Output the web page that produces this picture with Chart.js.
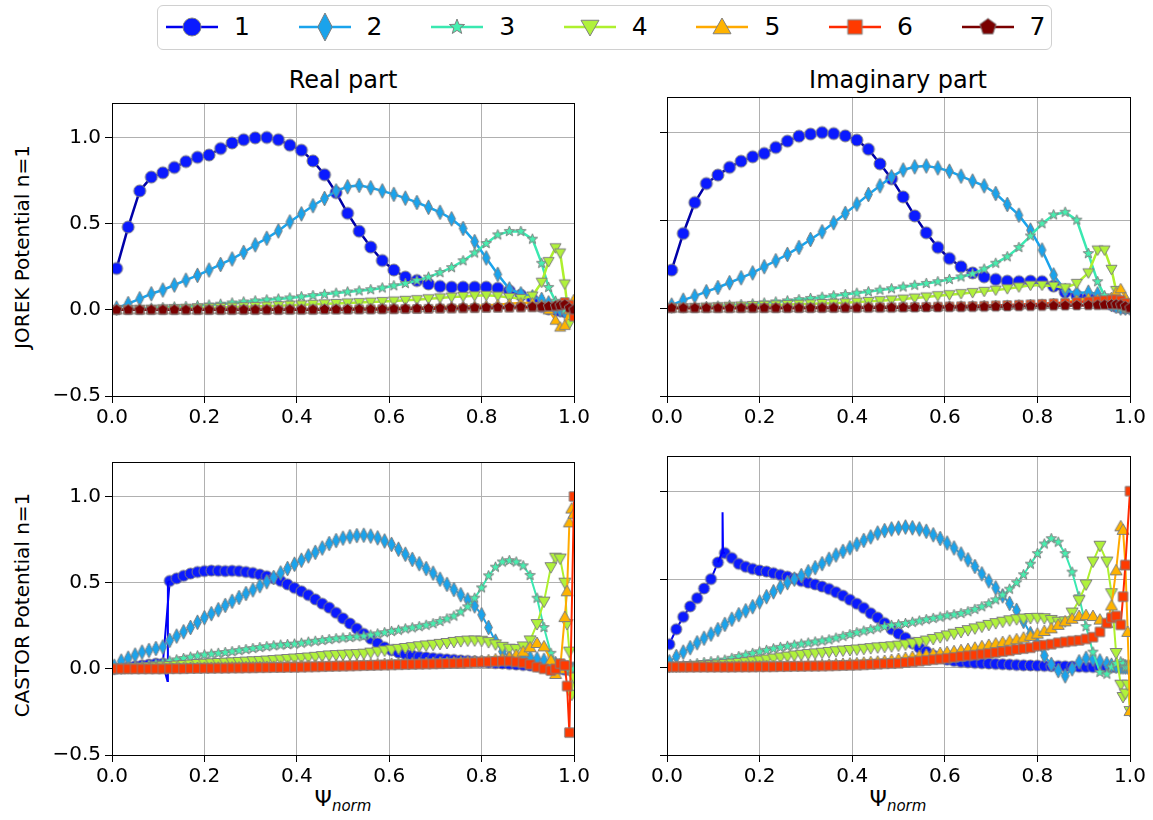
<!DOCTYPE html>
<html>
<head>
<meta charset="utf-8">
<title>JOREK / CASTOR potential n=1</title>
<script src="https://cdn.jsdelivr.net/npm/chart.js@4.4.1/dist/chart.umd.min.js"></script>
<style>
  html, body { margin: 0; padding: 0; background: #fff; }
  body { position: relative; width: 1153px; height: 820px; overflow: hidden;
         font-family: "DejaVu Sans", sans-serif; color: #000; }
  canvas.panel { position: absolute; }
  .title { position: absolute; font-size: 24px; transform: translate(-50%, -50%); white-space: nowrap; }
  .ylab  { position: absolute; font-size: 20px; transform: translate(-50%, -50%) rotate(-90deg); white-space: nowrap; }
  .xlab  { position: absolute; font-size: 22px; transform: translate(-50%, -50%); white-space: nowrap; }
  .xlab sub { font-size: 15px; font-style: italic; vertical-align: -5px; }
  #legend { position: absolute; left: 157px; top: 5px; width: 893px; height: 43px;
            border: 1px solid #d0d0d0; border-radius: 6px; }
  .lg-item { position: absolute; top: 0; height: 43px; width: 120px; }
  .lg-item canvas { position: absolute; left: 0; top: 5px; }
  .lg-item span { position: absolute; left: 70px; top: 5px; font-size: 25px; line-height: 32px; }
</style>
</head>
<body>
<div id="legend"></div>
<div class="title" style="left:343px;top:80px">Real part</div>
<div class="title" style="left:898px;top:80px">Imaginary part</div>
<div class="ylab" style="left:22px;top:247px">JOREK Potential n=1</div>
<div class="ylab" style="left:22px;top:605px">CASTOR Potential n=1</div>
<div class="xlab" style="left:343px;top:800px">Ψ<sub>norm</sub></div>
<div class="xlab" style="left:898px;top:800px">Ψ<sub>norm</sub></div>

<canvas id="jorekRe"  class="panel" width="582" height="343" style="left:12px;top:87px"></canvas>
<canvas id="jorekIm"  class="panel" width="583" height="343" style="left:567px;top:87px"></canvas>
<canvas id="castorRe" class="panel" width="582" height="343" style="left:12px;top:446px"></canvas>
<canvas id="castorIm" class="panel" width="583" height="343" style="left:567px;top:446px"></canvas>

<script>
// ============================================================
// JOREK vs CASTOR — potential harmonics, n=1
// ============================================================

// ── Axes ─────────────────────────────────────────────────────
const xTicks = [0, 0.2, 0.4, 0.6, 0.8, 1.0];
const yTicks = [-0.5, 0, 0.5, 1.0];
const harmonics = ["1", "2", "3", "4", "5", "6", "7"];

// ── JOREK (top row) ──────────────────────────────────────────
const psiJorek = [0.01,0.035,0.06,0.085,0.11,0.135,0.16,0.185,0.21,0.235,
  0.26,0.285,0.31,0.335,0.36,0.385,0.41,0.435,0.46,0.485,
  0.51,0.535,0.56,0.585,0.61,0.635,0.66,0.685,0.71,0.735,
  0.76,0.785,0.81,0.835,0.86,0.885,0.91,0.93,0.945,0.96,
  0.97,0.98,0.99,1.0];

const jorekRe1 = [0.24,0.48,0.69,0.77,0.795,0.826,0.86,0.885,0.898,0.936,
  0.968,0.987,0.998,1.0,0.987,0.955,0.926,0.864,0.784,0.68,
  0.56,0.456,0.364,0.286,0.231,0.19,0.17,0.15,0.136,0.131,
  0.131,0.131,0.131,0.125,0.11,0.085,0.06,0.02,0.005,0.0,
  -0.005,-0.01,0.0,0.0];
const jorekRe2 = [0.01,0.036,0.064,0.093,0.115,0.144,0.172,0.2,0.231,0.263,
  0.295,0.333,0.377,0.415,0.458,0.51,0.557,0.604,0.646,0.69,
  0.714,0.722,0.708,0.69,0.67,0.648,0.623,0.595,0.566,0.528,
  0.472,0.396,0.301,0.206,0.121,0.093,0.075,0.06,0.04,0.01,
  0.0,-0.01,0.0,0.0];
const jorekRe3 = [0.0,0.003,0.006,0.01,0.013,0.017,0.02,0.024,0.028,0.033,
  0.04,0.046,0.052,0.058,0.063,0.069,0.076,0.083,0.09,0.097,
  0.104,0.11,0.117,0.127,0.14,0.153,0.17,0.19,0.216,0.245,
  0.285,0.33,0.385,0.435,0.455,0.455,0.41,0.27,0.13,0.05,
  0.02,0.0,0.0,0.0];
const jorekRe4 = [0.0,0.002,0.003,0.004,0.006,0.007,0.009,0.01,0.012,0.014,
  0.016,0.018,0.02,0.022,0.024,0.027,0.029,0.032,0.035,0.037,
  0.04,0.042,0.045,0.048,0.051,0.055,0.059,0.064,0.069,0.074,
  0.078,0.082,0.084,0.08,0.072,0.066,0.08,0.16,0.28,0.36,
  0.33,0.15,-0.08,-0.02];
const jorekRe5 = [0,0,0,0,0,0,0,0,0.001,0.001,
  0.001,0.002,0.002,0.002,0.003,0.003,0.004,0.004,0.005,0.005,
  0.006,0.007,0.008,0.009,0.01,0.011,0.012,0.014,0.016,0.018,
  0.02,0.022,0.025,0.03,0.035,0.04,0.04,0.03,0.0,-0.06,
  -0.1,-0.09,0.0,0.06];
const jorekRe6 = [0,0,0,0,0,0,0,0,0,0,
  0,0,0,0,0,0.001,0.001,0.001,0.002,0.002,
  0.002,0.003,0.003,0.004,0.004,0.005,0.005,0.006,0.007,0.008,
  0.009,0.01,0.011,0.012,0.013,0.014,0.015,0.016,0.018,0.02,
  0.03,0.045,0.03,-0.04];
const jorekRe7 = [0,0,0,0,0,0,0,0,0,0,
  0,0,0,0,0,0.001,0.001,0.001,0.002,0.002,
  0.002,0.003,0.003,0.004,0.005,0.006,0.007,0.008,0.009,0.01,
  0.011,0.012,0.013,0.014,0.015,0.016,0.017,0.018,0.02,0.022,
  0.025,0.03,0.01,0.0];

const jorekIm1 = [0.216,0.424,0.6,0.708,0.756,0.8,0.835,0.86,0.879,0.913,
  0.949,0.977,0.989,0.998,0.992,0.979,0.955,0.903,0.82,0.735,
  0.632,0.524,0.428,0.345,0.282,0.235,0.2,0.178,0.163,0.153,
  0.15,0.153,0.15,0.125,0.09,0.07,0.06,0.05,0.04,0.02,
  0.01,0.005,0.0,0.0];
const jorekIm2 = [0.017,0.045,0.068,0.093,0.117,0.144,0.172,0.2,0.235,0.269,
  0.305,0.345,0.39,0.434,0.485,0.538,0.591,0.646,0.695,0.746,
  0.785,0.803,0.808,0.797,0.778,0.75,0.722,0.695,0.651,0.589,
  0.528,0.443,0.33,0.188,0.1,0.085,0.09,0.08,0.05,0.02,
  0.01,0.0,0.0,0.0];
const jorekIm3 = [0.0,0.003,0.006,0.009,0.012,0.016,0.02,0.024,0.029,0.035,
  0.041,0.048,0.055,0.062,0.07,0.077,0.085,0.093,0.102,0.11,
  0.12,0.13,0.14,0.15,0.163,0.177,0.195,0.222,0.255,0.292,
  0.345,0.41,0.48,0.53,0.545,0.5,0.31,0.15,0.07,0.03,
  0.01,0.0,0.0,0.0];
const jorekIm4 = [0.0,0.002,0.004,0.006,0.008,0.01,0.012,0.014,0.016,0.018,
  0.02,0.022,0.024,0.026,0.028,0.03,0.034,0.038,0.042,0.046,
  0.051,0.057,0.063,0.07,0.076,0.082,0.088,0.095,0.102,0.11,
  0.12,0.13,0.13,0.125,0.115,0.14,0.2,0.33,0.33,0.22,
  0.1,0.03,0.0,0.0];
const jorekIm5 = [0,0,0,0,0,0.001,0.001,0.001,0.002,0.002,
  0.002,0.003,0.003,0.004,0.004,0.005,0.005,0.006,0.006,0.007,
  0.008,0.008,0.009,0.01,0.011,0.012,0.013,0.014,0.015,0.016,
  0.018,0.02,0.022,0.026,0.032,0.045,0.055,0.05,0.04,0.06,
  0.09,0.11,0.06,0.0];
const jorekIm6 = [0,0,0,0,0,0,0,0,0,0,
  0.001,0.001,0.001,0.002,0.002,0.002,0.003,0.003,0.004,0.004,
  0.005,0.006,0.007,0.008,0.009,0.01,0.011,0.013,0.015,0.017,
  0.019,0.021,0.024,0.027,0.03,0.034,0.038,0.042,0.045,0.048,
  0.05,0.045,0.03,0.0];
const jorekIm7 = [0,0,0,0,0,0,0,0,0,0,
  0,0,0,0,0.001,0.001,0.001,0.002,0.002,0.002,
  0.003,0.003,0.004,0.004,0.005,0.005,0.006,0.007,0.008,0.009,
  0.01,0.011,0.012,0.013,0.014,0.015,0.016,0.017,0.018,0.02,
  0.02,0.018,0.01,0.0];

// ── CASTOR (bottom row) ──────────────────────────────────────
const psiCastor = [0.005,0.02,0.035,0.05,0.065,0.08,0.095,0.11,0.125,0.14,
  0.155,0.17,0.185,0.2,0.215,0.23,0.245,0.26,0.275,0.29,
  0.305,0.32,0.335,0.35,0.365,0.38,0.395,0.41,0.425,0.44,
  0.455,0.47,0.485,0.5,0.515,0.53,0.545,0.56,0.575,0.59,
  0.605,0.62,0.635,0.65,0.665,0.68,0.695,0.71,0.725,0.74,
  0.755,0.77,0.785,0.8,0.815,0.83,0.845,0.86,0.875,0.89,
  0.905,0.92,0.935,0.95,0.96,0.97,0.98,0.985,0.99,0.995,
  1.0];

const castorRe1 = [0.0,0.005,0.01,0.015,0.02,0.025,0.03,0.03,0.51,0.525,
  0.54,0.553,0.562,0.567,0.57,0.569,0.567,0.569,0.567,0.562,
  0.556,0.547,0.537,0.525,0.51,0.49,0.47,0.45,0.428,0.403,
  0.378,0.355,0.325,0.293,0.263,0.233,0.203,0.175,0.148,0.125,
  0.108,0.095,0.085,0.077,0.07,0.066,0.062,0.058,0.055,0.052,
  0.049,0.046,0.043,0.04,0.037,0.034,0.031,0.028,0.025,0.022,
  0.019,0.015,0.012,0.008,0.005,0.0,-0.005,0.0,0.0,0.0,
  0.0];
const castorRe2 = [0.015,0.045,0.062,0.08,0.097,0.107,0.118,0.127,0.165,0.19,
  0.215,0.24,0.27,0.297,0.32,0.343,0.368,0.392,0.414,0.437,
  0.458,0.482,0.505,0.53,0.556,0.582,0.607,0.63,0.655,0.676,
  0.701,0.727,0.744,0.758,0.767,0.773,0.775,0.77,0.76,0.742,
  0.722,0.694,0.665,0.635,0.61,0.582,0.555,0.52,0.49,0.46,
  0.43,0.4,0.365,0.314,0.24,0.16,0.1,0.07,0.06,0.06,
  0.065,0.058,0.05,0.04,0.03,0.02,0.01,0.005,0.0,0.0,
  0.0];
const castorRe3 = [0.0,0.005,0.01,0.015,0.02,0.025,0.03,0.035,0.045,0.052,
  0.06,0.068,0.075,0.081,0.086,0.09,0.095,0.1,0.106,0.112,
  0.118,0.124,0.129,0.134,0.138,0.141,0.144,0.149,0.155,0.16,
  0.165,0.17,0.175,0.179,0.182,0.186,0.19,0.196,0.203,0.21,
  0.217,0.224,0.232,0.238,0.245,0.253,0.262,0.275,0.29,0.306,
  0.33,0.36,0.41,0.47,0.54,0.59,0.62,0.628,0.62,0.598,
  0.542,0.41,0.24,0.09,0.03,0.01,0.0,0.0,0.0,0.0,
  0.0];
const castorRe4 = [0.0,0.002,0.004,0.006,0.008,0.01,0.012,0.014,0.016,0.019,
  0.022,0.025,0.028,0.03,0.032,0.034,0.036,0.038,0.04,0.042,
  0.044,0.046,0.048,0.051,0.054,0.057,0.06,0.063,0.066,0.07,
  0.074,0.078,0.08,0.082,0.084,0.086,0.088,0.094,0.1,0.106,
  0.111,0.116,0.121,0.126,0.131,0.136,0.14,0.145,0.15,0.156,
  0.161,0.164,0.165,0.163,0.155,0.142,0.128,0.117,0.115,0.13,
  0.165,0.26,0.39,0.59,0.645,0.64,0.5,0.26,0.1,-0.15,
  -0.05];
const castorRe5 = [0,0,0,0.001,0.001,0.002,0.002,0.003,0.003,0.004,
  0.004,0.005,0.005,0.006,0.006,0.007,0.007,0.008,0.008,0.009,
  0.009,0.01,0.011,0.012,0.013,0.014,0.015,0.016,0.017,0.018,
  0.019,0.02,0.021,0.022,0.023,0.024,0.025,0.026,0.027,0.028,
  0.029,0.03,0.031,0.032,0.033,0.034,0.035,0.036,0.037,0.038,
  0.04,0.042,0.044,0.046,0.05,0.055,0.06,0.068,0.08,0.1,
  0.125,0.15,0.13,0.05,-0.03,0.0,0.3,0.45,0.85,0.93,
  0.9];
const castorRe6 = [0,0,0,0,0,0,0,0,0.001,0.001,
  0.001,0.002,0.002,0.003,0.003,0.004,0.004,0.005,0.005,0.006,
  0.006,0.007,0.007,0.008,0.008,0.009,0.009,0.01,0.011,0.012,
  0.013,0.014,0.015,0.016,0.017,0.018,0.019,0.02,0.021,0.022,
  0.023,0.024,0.025,0.026,0.027,0.028,0.029,0.03,0.031,0.032,
  0.033,0.035,0.037,0.039,0.041,0.043,0.045,0.045,0.04,0.035,
  0.025,0.01,0.0,-0.01,0.0,0.03,0.02,-0.1,-0.37,null,
  1.0];

const castorIm1 = [0.13,0.215,0.285,0.345,0.392,0.447,0.5,0.595,0.648,0.62,
  0.587,0.57,0.558,0.549,0.543,0.534,0.524,0.514,0.503,0.49,
  0.48,0.47,0.458,0.444,0.426,0.406,0.383,0.36,0.336,0.306,
  0.281,0.25,0.215,0.19,0.166,0.136,0.11,0.088,0.066,0.052,
  0.042,0.035,0.03,0.027,0.024,0.022,0.02,0.018,0.016,0.014,
  0.012,0.01,0.009,0.008,0.007,0.006,0.005,0.004,0.003,0.002,
  0.001,0.0,0.0,0.0,0.0,0.0,0.0,0.0,0.0,0.0,
  0.0];
const castorIm2 = [0.03,0.06,0.085,0.11,0.138,0.164,0.187,0.213,0.243,0.272,
  0.298,0.32,0.343,0.37,0.4,0.428,0.455,0.48,0.5,0.52,
  0.542,0.565,0.588,0.613,0.637,0.658,0.678,0.698,0.72,0.74,
  0.762,0.776,0.785,0.79,0.796,0.792,0.785,0.772,0.752,0.731,
  0.705,0.677,0.643,0.61,0.572,0.53,0.49,0.45,0.405,0.362,
  0.322,0.26,0.19,0.13,0.065,0.015,-0.02,-0.05,-0.01,0.03,
  0.05,0.045,0.035,0.02,0.01,0.005,0.0,0.0,0.0,0.0,
  0.0];
const castorIm3 = [0.0,0.005,0.01,0.015,0.02,0.026,0.031,0.036,0.04,0.05,
  0.06,0.068,0.078,0.087,0.095,0.104,0.112,0.118,0.125,0.131,
  0.137,0.143,0.149,0.155,0.165,0.175,0.185,0.196,0.205,0.213,
  0.222,0.23,0.237,0.241,0.248,0.255,0.262,0.27,0.277,0.284,
  0.292,0.298,0.305,0.315,0.328,0.343,0.36,0.382,0.41,0.443,
  0.48,0.525,0.585,0.645,0.7,0.73,0.71,0.645,0.54,0.4,
  0.23,0.085,-0.03,-0.04,0.0,0.02,0.03,0.02,0.0,0.0,
  0.0];
const castorIm4 = [0.0,0.002,0.004,0.006,0.008,0.01,0.012,0.014,0.017,0.02,
  0.024,0.028,0.033,0.038,0.043,0.049,0.055,0.06,0.066,0.07,
  0.074,0.078,0.082,0.086,0.09,0.094,0.097,0.1,0.104,0.108,
  0.112,0.115,0.118,0.122,0.128,0.135,0.143,0.151,0.16,0.17,
  0.18,0.19,0.2,0.21,0.22,0.23,0.24,0.25,0.258,0.266,
  0.272,0.276,0.279,0.28,0.278,0.268,0.258,0.26,0.31,0.38,
  0.47,0.6,0.69,0.6,0.42,0.08,-0.1,-0.17,-0.15,-0.1,
  -0.25];
const castorIm5 = [0,0,0,0,0.001,0.001,0.001,0.002,0.002,0.002,
  0.003,0.003,0.004,0.004,0.005,0.005,0.006,0.007,0.008,0.009,
  0.01,0.011,0.012,0.014,0.016,0.018,0.02,0.022,0.025,0.028,
  0.031,0.035,0.04,0.046,0.052,0.058,0.064,0.07,0.075,0.08,
  0.085,0.09,0.096,0.102,0.11,0.118,0.126,0.134,0.142,0.15,
  0.158,0.167,0.178,0.19,0.205,0.22,0.24,0.26,0.275,0.29,
  0.295,0.29,0.27,0.25,0.35,0.55,0.8,0.78,0.58,0.2,
  -0.25];
const castorIm6 = [0,0,0,0,0,0,0,0,0,0,
  0.001,0.001,0.001,0.002,0.002,0.002,0.003,0.003,0.004,0.004,
  0.005,0.005,0.006,0.007,0.008,0.009,0.01,0.011,0.013,0.015,
  0.017,0.019,0.02,0.022,0.026,0.03,0.034,0.038,0.042,0.046,
  0.05,0.055,0.06,0.064,0.068,0.073,0.078,0.083,0.088,0.093,
  0.1,0.105,0.11,0.12,0.125,0.13,0.138,0.143,0.148,0.152,
  0.16,0.17,0.2,0.25,0.28,0.29,0.24,0.4,0.58,null,
  1.0];

// thin unmarked line pieces of harmonic 1 (jump in real part, spike in imaginary part)
const jumpReX  = [0.11, 0.12, 0.121, 0.125];
const jumpReY  = [0.03, -0.07, 0.5, 0.51];
const spikeImX = [0.11, 0.119, 0.12, 0.121, 0.125];
const spikeImY = [0.595, 0.65, 0.88, 0.65, 0.648];

// ── Styles ───────────────────────────────────────────────────
const fills  = ["#0a1aff", "#1aa3ec", "#46f0b0", "#b0f23a", "#ffb300", "#ff3a00", "#7a0000"];
const lines  = ["#0000ee", "#1aa3ec", "#3ae8b0", "#aef02e", "#ffaa00", "#ff2a00", "#7a0000"];
const shapes = ["circle", "thinDiamond", "star", "triDown", "triUp", "square", "pentagon"];

Chart.defaults.font.family = '"DejaVu Sans", sans-serif';
Chart.defaults.font.size = 20;
Chart.defaults.color = "#000";

// ── Markers (matplotlib-ish, grey edge) ──────────────────────
function makeMarker(shape, fill, s) {
  const c = document.createElement("canvas");
  c.width = c.height = Math.ceil(s + 4);
  const g = c.getContext("2d");
  const cx = c.width / 2, cy = c.height / 2, r = s / 2;
  g.beginPath();
  if (shape === "circle") {
    g.arc(cx, cy, r, 0, Math.PI * 2);
  } else if (shape === "thinDiamond") {
    g.moveTo(cx, cy - r); g.lineTo(cx + r * 0.52, cy);
    g.lineTo(cx, cy + r); g.lineTo(cx - r * 0.52, cy); g.closePath();
  } else if (shape === "star") {
    for (let k = 0; k < 10; k++) {
      const a = -Math.PI / 2 + k * Math.PI / 5;
      const rr = k % 2 ? r * 0.42 : r;
      k ? g.lineTo(cx + rr * Math.cos(a), cy + rr * Math.sin(a))
        : g.moveTo(cx + rr * Math.cos(a), cy + rr * Math.sin(a));
    }
    g.closePath();
  } else if (shape === "triDown") {
    g.moveTo(cx - r, cy - r * 0.75); g.lineTo(cx + r, cy - r * 0.75);
    g.lineTo(cx, cy + r); g.closePath();
  } else if (shape === "triUp") {
    g.moveTo(cx, cy - r); g.lineTo(cx + r, cy + r * 0.75);
    g.lineTo(cx - r, cy + r * 0.75); g.closePath();
  } else if (shape === "square") {
    g.rect(cx - r * 0.85, cy - r * 0.85, r * 1.7, r * 1.7);
  } else if (shape === "pentagon") {
    for (let k = 0; k < 5; k++) {
      const a = -Math.PI / 2 + k * 2 * Math.PI / 5;
      k ? g.lineTo(cx + r * Math.cos(a), cy + r * Math.sin(a))
        : g.moveTo(cx + r * Math.cos(a), cy + r * Math.sin(a));
    }
    g.closePath();
  }
  g.fillStyle = fill;
  g.fill();
  g.strokeStyle = "#7f7f7f";
  g.lineWidth = 1;
  g.stroke();
  return c;
}

// ── Plugin: full black frame round the axes ──────────────────
const framePlugin = {
  id: "frame",
  afterDraw(chart) {
    const a = chart.chartArea, ctx = chart.ctx;
    ctx.save();
    ctx.strokeStyle = "#000";
    ctx.lineWidth = 1;
    ctx.strokeRect(Math.round(a.left) + 0.5, Math.round(a.top) + 0.5,
                   Math.round(a.right - a.left), Math.round(a.bottom - a.top));
    ctx.restore();
  },
};

const fmtY = v => (v < 0 ? "\u2212" + Math.abs(v).toFixed(1) : v.toFixed(1));

// ── Panel builder ────────────────────────────────────────────
function buildPanel(id, psi, series, extra, opt) {
  const datasets = series.map((ys, i) => ({
    label: harmonics[i],
    data: psi.map((x, j) => ({ x, y: ys[j] })),
    showLine: true,
    spanGaps: true,
    borderColor: i === 0 ? opt.firstLine : lines[i],
    borderWidth: opt.lineWidth,
    pointStyle: makeMarker(shapes[i], fills[i], opt.sizes[i]),
    pointRadius: 4,
    order: 20 - i,
  }));
  if (extra) {
    datasets.push({
      label: "1 (fine)",
      data: extra.x.map((x, j) => ({ x, y: extra.y[j] })),
      showLine: true,
      borderColor: "#0000ff",
      borderWidth: 2,
      pointRadius: 0,
      order: 19.5,
    });
  }

  new Chart(document.getElementById(id), {
    type: "scatter",
    data: { datasets },
    options: {
      responsive: false,
      animation: false,
      devicePixelRatio: 1,
      events: [],
      layout: { padding: { top: 10, right: 20, left: 0, bottom: 0 } },
      plugins: { legend: { display: false }, tooltip: { enabled: false } },
      scales: {
        x: {
          type: "linear", min: 0, max: 1,
          afterBuildTicks: s => { s.ticks = xTicks.map(v => ({ value: v })); },
          afterFit: s => { s.height = 34; },
          ticks: { callback: v => v.toFixed(1), padding: 3, maxRotation: 0, autoSkip: false },
          grid: { color: "#b0b0b0", lineWidth: 1, tickLength: 7, tickColor: "#000" },
          border: { color: "#000", width: 1 },
        },
        y: {
          type: "linear", min: -0.5, max: 1.2,
          afterBuildTicks: s => { s.ticks = yTicks.map(v => ({ value: v })); },
          afterFit: s => { s.width = 100; },
          ticks: { display: opt.yLabels, callback: fmtY, padding: 4 },
          grid: { color: "#b0b0b0", lineWidth: 1, tickLength: 7, tickColor: "#000" },
          border: { color: "#000", width: 1 },
        },
      },
    },
    plugins: [framePlugin],
  });
}

const topSizes = [12, 15, 11, 11, 11, 10, 11];
const botSizes = [11, 15, 11, 12, 12, 11, 11];

buildPanel("jorekRe", psiJorek,
  [jorekRe1, jorekRe2, jorekRe3, jorekRe4, jorekRe5, jorekRe6, jorekRe7], null,
  { yLabels: true, lineWidth: 2.5, firstLine: "#0000a8", sizes: topSizes });
buildPanel("jorekIm", psiJorek,
  [jorekIm1, jorekIm2, jorekIm3, jorekIm4, jorekIm5, jorekIm6, jorekIm7], null,
  { yLabels: false, lineWidth: 2.5, firstLine: "#0000a8", sizes: topSizes });
buildPanel("castorRe", psiCastor,
  [castorRe1, castorRe2, castorRe3, castorRe4, castorRe5, castorRe6],
  { x: jumpReX, y: jumpReY },
  { yLabels: true, lineWidth: 2, firstLine: "#0000ee", sizes: botSizes });
buildPanel("castorIm", psiCastor,
  [castorIm1, castorIm2, castorIm3, castorIm4, castorIm5, castorIm6],
  { x: spikeImX, y: spikeImY },
  { yLabels: false, lineWidth: 2, firstLine: "#0000ee", sizes: botSizes });

// ── Legend ───────────────────────────────────────────────────
const legendSizes = [18, 28, 16, 18, 18, 17, 17];
const legend = document.getElementById("legend");
harmonics.forEach((name, i) => {
  const item = document.createElement("div");
  item.className = "lg-item";
  item.style.left = (6 + i * 132.6) + "px";
  const c = document.createElement("canvas");
  c.width = 56; c.height = 32;
  const g = c.getContext("2d");
  g.strokeStyle = lines[i];
  g.lineWidth = 2.5;
  g.beginPath(); g.moveTo(2, 16); g.lineTo(54, 16); g.stroke();
  const m = makeMarker(shapes[i], fills[i], legendSizes[i]);
  g.drawImage(m, 28 - m.width / 2, 16 - m.height / 2);
  const label = document.createElement("span");
  label.textContent = name;
  item.appendChild(c);
  item.appendChild(label);
  legend.appendChild(item);
});
</script>
</body>
</html>
